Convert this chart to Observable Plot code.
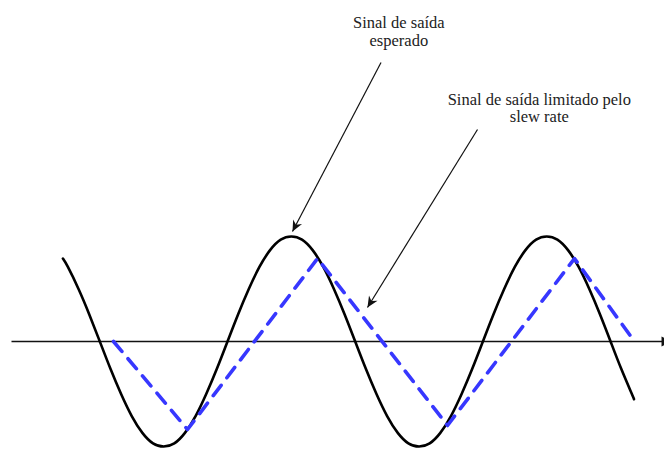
<!DOCTYPE html>
<html>
<head>
<meta charset="utf-8">
<script src="https://cdn.jsdelivr.net/npm/d3@7"></script>
<script src="https://cdn.jsdelivr.net/npm/@observablehq/plot@0.6"></script>
<style>
  html, body { margin: 0; padding: 0; background: #fff; }
  #chart svg { display: block; background: #fff; }
  #chart svg text { font-family: "Liberation Serif", "DejaVu Serif", serif; }
</style>
</head>
<body>
<div id="chart"></div>
<script>
// Phase (degrees) and normalized amplitude of the expected output (sine)
const sineT = [-232, -225, -210, -195, -180, -165, -150, -135, -120, -105, -90, -75, -60, -45, -30, -15,
  0, 15, 30, 45, 60, 75, 90, 105, 120, 135, 150, 165, 180, 195, 210, 225, 240, 255, 270, 285, 300, 315, 330, 345,
  360, 375, 390, 405, 420, 435, 450, 465, 480, 495, 510, 525, 540, 555, 570, 573];
const sineV = [0.79, 0.71, 0.5, 0.26, 0, -0.26, -0.5, -0.71, -0.87, -0.97, -1, -0.97, -0.87, -0.71, -0.5, -0.26,
  0, 0.26, 0.5, 0.71, 0.87, 0.97, 1, 0.97, 0.87, 0.71, 0.5, 0.26, 0, -0.26, -0.5, -0.71, -0.87, -0.97, -1, -0.97, -0.87, -0.71, -0.5, -0.26,
  0, 0.26, 0.5, 0.71, 0.87, 0.97, 1, 0.97, 0.87, 0.71, 0.5, 0.26, 0, -0.26, -0.5, -0.55];

// Slew-rate limited output (triangle) vertices
const slewT = [-160.7, -56.4, 126.9, 310.1, 489.1, 573.7];
const slewV = [0, -0.838, 0.79, -0.80, 0.79, 0];

// Horizontal axis extent
const axisT = [-304.5, 624.5];

// Annotations
const labelText = ["Sinal de saída\nesperado", "Sinal de saída limitado pelo\nslew rate"];
const labelT = [241.5, 439.5];
const labelV = [3.10, 2.37];
const arrowT1 = [216.4, 352.4];
const arrowV1 = [2.657, 2.019];
const arrowT2 = [91.6, 197.3];
const arrowV2 = [1.048, 0.324];

const sine = sineT.map((t, i) => ({t, v: sineV[i]}));
const slew = slewT.map((t, i) => ({t, v: slewV[i]}));
const labels = labelText.map((text, i) => ({text, t: labelT[i], v: labelV[i]}));
const arrows = arrowT1.map((t1, i) => ({t1, v1: arrowV1[i], t2: arrowT2[i], v2: arrowV2[i]}));
const axisData = [{t1: axisT[0], t2: axisT[1], v: 0}];

const NS = "http://www.w3.org/2000/svg";
function makeMarker(pathD, viewBox, w, h) {
  return function (color, context) {
    const doc = (context && context.document) || document;
    const m = doc.createElementNS(NS, "marker");
    m.setAttribute("viewBox", viewBox);
    m.setAttribute("markerWidth", w);
    m.setAttribute("markerHeight", h);
    m.setAttribute("markerUnits", "userSpaceOnUse");
    m.setAttribute("refX", 0);
    m.setAttribute("refY", 0);
    m.setAttribute("orient", "auto");
    const p = doc.createElementNS(NS, "path");
    p.setAttribute("d", pathD);
    p.setAttribute("fill", color);
    p.setAttribute("stroke", "none");
    m.appendChild(p);
    return m;
  };
}
const stealth = makeMarker("M0,0L-11,-5L-7.5,0L-11,5Z", "-12 -6 13 12", 13, 12);
const triangle = makeMarker("M0,0L-9,-5L-9,5Z", "-10 -6 11 12", 11, 12);

const chart = Plot.plot({
  width: 664,
  height: 449,
  margin: 0,
  style: {fontFamily: "'Liberation Serif', 'DejaVu Serif', serif"},
  x: {domain: [-320, 616], range: [0, 664], axis: null},
  y: {domain: [-1, 1], range: [446, 236], axis: null},
  marks: [
    Plot.link(axisData, {x1: "t1", x2: "t2", y1: "v", y2: "v", stroke: "#111", strokeWidth: 1.3, markerEnd: triangle}),
    Plot.line(sine, {x: "t", y: "v", curve: "natural", stroke: "#000", strokeWidth: 2.6}),
    Plot.line(slew, {x: "t", y: "v", stroke: "#3737ff", strokeWidth: 3.6, strokeDasharray: "13,9.5"}),
    Plot.link(arrows, {x1: "t1", y1: "v1", x2: "t2", y2: "v2", stroke: "#111", strokeWidth: 1.2, markerEnd: stealth}),
    Plot.text(labels, {x: "t", y: "v", text: "text", textAnchor: "middle", lineAnchor: "top", lineHeight: 1.05, fontFamily: "'Liberation Serif', 'DejaVu Serif', serif", fontSize: 16.5, fill: "#222"})
  ]
});
document.getElementById("chart").appendChild(chart);
</script>
</body>
</html>
